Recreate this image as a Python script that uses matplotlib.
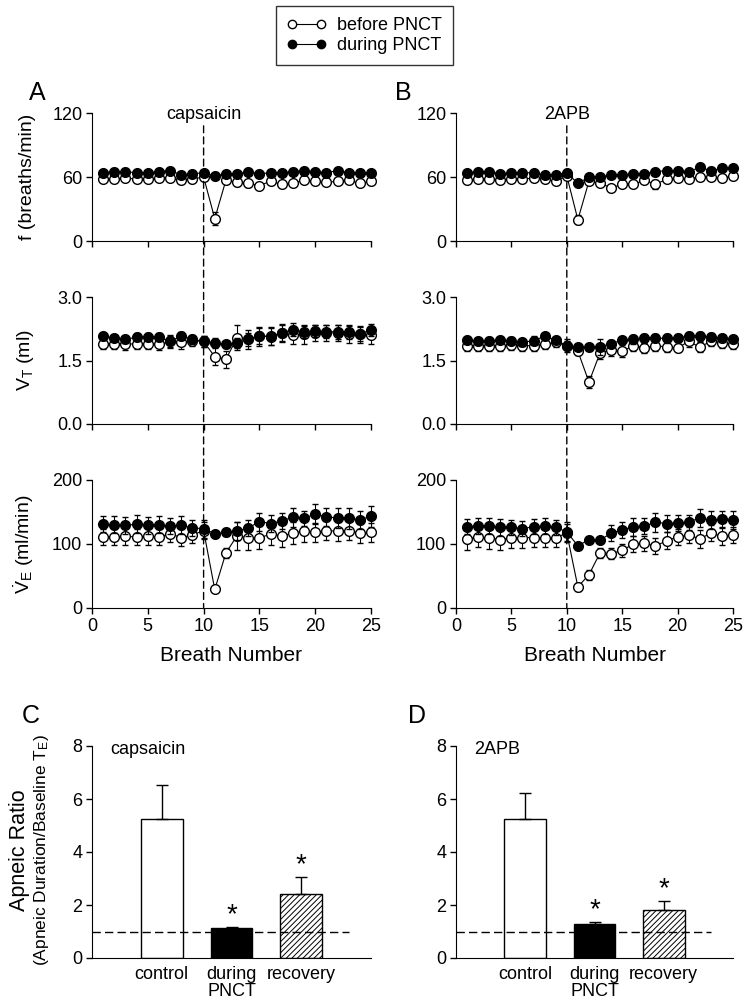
import numpy as np
import matplotlib
matplotlib.use("Agg")
import matplotlib.pyplot as plt
from matplotlib.lines import Line2D
from matplotlib.patches import ConnectionPatch

plt.rcParams['font.family'] = ['Liberation Sans', 'DejaVu Sans']
plt.rcParams['mathtext.fontset'] = 'custom'
plt.rcParams['mathtext.rm'] = 'Liberation Sans'
plt.rcParams['mathtext.it'] = 'Liberation Sans:italic'
plt.rcParams['hatch.linewidth'] = 0.7

# ----------------------
# data
# ----------------------
breath = np.arange(1, 26)

# panel A (capsaicin)
fA_before = [58, 58, 59, 58, 58, 59, 59, 57, 58, 60, 21, 57, 55, 54, 52, 56, 53, 54, 57, 56, 55, 56, 57, 54, 56]
fA_before_err = [2, 2, 2, 2, 2, 2, 2, 2, 2, 2, 6, 3, 3, 3, 2, 2, 2, 2, 2, 2, 2, 2, 2, 2, 2]
fA_during = [64, 65, 65, 64, 64, 65, 66, 62, 63, 64, 61, 63, 63, 65, 63, 64, 64, 65, 66, 65, 64, 66, 64, 64, 64]
fA_during_err = [2] * 25

vtA_before = [1.90, 1.90, 1.88, 1.90, 1.90, 1.88, 1.95, 1.93, 1.97, 1.95, 1.59, 1.53, 2.04, 2.00, 2.07,
              2.08, 2.15, 2.10, 2.12, 2.15, 2.15, 2.15, 2.12, 2.12, 2.10]
vtA_before_err = [0.12, 0.13, 0.13, 0.14, 0.14, 0.14, 0.15, 0.15, 0.12, 0.12, 0.2, 0.2, 0.3, 0.22, 0.22,
                  0.22, 0.22, 0.22, 0.22, 0.2, 0.2, 0.2, 0.2, 0.2, 0.2]
vtA_during = [2.07, 2.03, 2.00, 2.05, 2.05, 2.05, 1.95, 2.08, 2.00, 1.95, 1.92, 1.88, 1.92, 2.00, 2.08,
              2.06, 2.15, 2.23, 2.17, 2.20, 2.18, 2.18, 2.17, 2.13, 2.22]
vtA_during_err = [0.08, 0.08, 0.08, 0.1, 0.1, 0.1, 0.12, 0.1, 0.1, 0.12, 0.1, 0.08, 0.12, 0.15, 0.18,
                  0.2, 0.2, 0.15, 0.15, 0.15, 0.15, 0.17, 0.17, 0.17, 0.15]

veA_before = [111, 111, 112, 111, 112, 111, 116, 110, 114, 121, 29, 86, 113, 109, 110, 115, 113, 117, 120, 118,
              121, 120, 121, 117, 118]
veA_before_err = [13, 13, 13, 13, 13, 13, 13, 13, 13, 13, 4, 8, 22, 18, 18, 16, 18, 17, 17, 15, 15, 15, 15, 15, 15]
veA_during = [131, 130, 129, 131, 129, 130, 128, 129, 125, 124, 116, 118, 120, 125, 135, 132, 136, 142, 140, 147,
              142, 141, 140, 138, 143]
veA_during_err = [13, 13, 13, 14, 13, 13, 12, 14, 12, 14, 5, 6, 14, 12, 14, 14, 12, 15, 12, 16, 14, 16, 16, 14, 17]

# panel B (2APB)
fB_before = [57, 58, 58, 57, 58, 58, 59, 58, 56, 61, 20, 56, 54, 50, 53, 53, 57, 53, 58, 59, 58, 60, 60, 59, 61]
fB_before_err = [2, 2, 2, 2, 2, 2, 2, 2, 2, 2, 4, 2, 2, 2, 2, 2, 2, 4, 2, 3, 2, 2, 2, 2, 2]
fB_during = [64, 65, 65, 63, 64, 64, 64, 62, 62, 64, 54, 60, 60, 62, 62, 63, 63, 65, 66, 66, 65, 69, 66, 68, 68]
fB_during_err = [2] * 25

vtB_before = [1.85, 1.85, 1.85, 1.85, 1.87, 1.85, 1.85, 1.88, 1.93, 1.85, 1.72, 0.99, 1.68, 1.75, 1.72,
              1.85, 1.80, 1.85, 1.82, 1.80, 1.95, 1.82, 1.95, 1.92, 1.88]
vtB_before_err = [0.12, 0.12, 0.12, 0.12, 0.12, 0.12, 0.12, 0.1, 0.1, 0.1, 0.1, 0.15, 0.15, 0.14, 0.14,
                  0.12, 0.12, 0.12, 0.12, 0.1, 0.12, 0.12, 0.1, 0.12, 0.12]
vtB_during = [1.98, 1.95, 1.97, 1.98, 1.97, 1.93, 1.97, 2.07, 1.98, 1.85, 1.82, 1.82, 1.82, 1.90, 1.98,
              2.00, 2.02, 2.03, 2.02, 2.03, 2.08, 2.07, 2.05, 2.02, 2.00]
vtB_during_err = [0.08, 0.08, 0.08, 0.08, 0.08, 0.08, 0.1, 0.08, 0.08, 0.15, 0.05, 0.05, 0.18, 0.08, 0.08,
                  0.1, 0.1, 0.1, 0.1, 0.1, 0.1, 0.1, 0.1, 0.08, 0.08]

veB_before = [108, 111, 109, 107, 110, 110, 110, 110, 110, 117, 33, 52, 86, 85, 90, 100, 101, 97, 105, 111,
              114, 108, 117, 112, 114]
veB_before_err = [18, 16, 17, 17, 16, 16, 15, 15, 14, 14, 6, 8, 8, 8, 10, 12, 12, 12, 13, 12, 12, 14, 13, 13, 12]
veB_during = [127, 128, 128, 126, 126, 124, 127, 128, 126, 119, 97, 107, 106, 117, 122, 127, 128, 134, 132, 133,
              134, 141, 137, 139, 138]
veB_during_err = [12, 13, 13, 13, 12, 12, 12, 12, 12, 15, 4, 4, 4, 12, 12, 14, 12, 15, 14, 12, 12, 14, 14, 13, 14]

# panels C / D : apneic ratio
bar_labels = ["control", "during\nPNCT", "recovery"]
capsaicin_ratio = [5.24, 1.13, 2.43]
capsaicin_err = [1.30, 0.04, 0.64]
apb_ratio = [5.23, 1.27, 1.80]
apb_err = [1.0, 0.08, 0.36]
signif = [False, True, True]
baseline_ratio = 1.0
injection_breath = 10

# ----------------------
# figure
# ----------------------
fig = plt.figure(figsize=(7.5, 10.06), dpi=100)

H = 1006.0
W = 750.0


def ax_at(x0, x1, y0, y1):
    return fig.add_axes([x0 / W, 1 - y1 / H, (x1 - x0) / W, (y1 - y0) / H])


rows = [(113, 241), (297, 424), (480, 608)]
cols = [(92, 371), (456, 733)]

axes = [[ax_at(c[0], c[1], r[0], r[1]) for r in rows] for c in cols]

panel_data = [
    [(fA_before, fA_before_err, fA_during, fA_during_err),
     (vtA_before, vtA_before_err, vtA_during, vtA_during_err),
     (veA_before, veA_before_err, veA_during, veA_during_err)],
    [(fB_before, fB_before_err, fB_during, fB_during_err),
     (vtB_before, vtB_before_err, vtB_during, vtB_during_err),
     (veB_before, veB_before_err, veB_during, veB_during_err)],
]
ylims = [(0, 120), (0, 3.0), (0, 200)]
yticks = [[0, 60, 120], [0, 1.5, 3.0], [0, 100, 200]]
yticklabels = [["0", "60", "120"], ["0.0", "1.5", "3.0"], ["0", "100", "200"]]
ylabels = ["f (breaths/min)", r"V$_\mathrm{T}$ (ml)", r"$\dot{\mathrm{V}}_\mathrm{E}$ (ml/min)"]
drug = ["capsaicin", "2APB"]

for ci in range(2):
    for ri in range(3):
        ax = axes[ci][ri]
        before, before_err, during, during_err = panel_data[ci][ri]
        ax.errorbar(breath, before, yerr=before_err, fmt='o-', color='k', mfc='white', mec='k',
                    ms=7, mew=1, lw=0.8, elinewidth=0.8, capsize=2.5, capthick=0.8,
                    clip_on=False, zorder=3)
        ax.errorbar(breath, during, yerr=during_err, fmt='o-', color='k', mfc='k', mec='k',
                    ms=7, mew=1, lw=0.8, elinewidth=0.8, capsize=2.5, capthick=0.8,
                    clip_on=False, zorder=4)
        ax.set_xlim(0, 25)
        ax.set_ylim(*ylims[ri])
        ax.set_xticks([0, 5, 10, 15, 20, 25])
        ax.set_yticks(yticks[ri])
        ax.set_yticklabels(yticklabels[ri])
        if ri < 2:
            ax.set_xticklabels([])
        else:
            ax.set_xlabel("Breath Number", fontsize=15, labelpad=8)
        ax.spines['top'].set_visible(False)
        ax.spines['right'].set_visible(False)
        ax.tick_params(direction='out', length=4, width=1, labelsize=13, pad=3)
        if ci == 0:
            ax.set_ylabel(ylabels[ri], fontsize=14)
            ax.yaxis.set_label_coords(-0.2, 0.5)
    # injection marker
    top = axes[ci][0]
    top.text(injection_breath, 114, drug[ci], ha='center', va='baseline', fontsize=13)
    con = ConnectionPatch(xyA=(injection_breath, 108), coordsA=top.transData,
                          xyB=(injection_breath, 0), coordsB=axes[ci][2].transData,
                          linestyle=(0, (5, 3)), color='k', lw=1, zorder=1)
    fig.add_artist(con)

# ----------------------
# bar panels
# ----------------------
bar_rows = (746, 958)
bar_axes = [ax_at(c[0], c[1], bar_rows[0], bar_rows[1]) for c in cols]
bar_sets = [(capsaicin_ratio, capsaicin_err), (apb_ratio, apb_err)]
xpos = np.arange(1, 4)
for ci, ax in enumerate(bar_axes):
    vals, errs = bar_sets[ci]
    faces = ['white', 'black', 'white']
    hatches = [None, None, '//////']
    for i in range(3):
        ax.bar(xpos[i], vals[i], width=0.6, color=faces[i], edgecolor='k', linewidth=1,
               hatch=hatches[i], zorder=2)
    ax.errorbar(xpos, vals, yerr=[np.zeros(3), errs], fmt='none', ecolor='k',
                elinewidth=1, capsize=4.3, capthick=1, zorder=3)
    for i in range(3):
        if signif[i]:
            ax.text(xpos[i], vals[i] + errs[i] + 0.45, "*", ha='center', va='center', fontsize=20)
    ax.plot([0, 3.68], [baseline_ratio, baseline_ratio], color='k', lw=1,
            linestyle=(0, (6, 3)), zorder=4)
    ax.set_xlim(0, 4)
    ax.set_ylim(0, 8)
    ax.set_yticks([0, 2, 4, 6, 8])
    ax.set_xticks(xpos)
    ax.set_xticklabels(bar_labels, linespacing=0.95)
    ax.spines['top'].set_visible(False)
    ax.spines['right'].set_visible(False)
    ax.tick_params(axis='y', direction='out', length=4, width=1, labelsize=13, pad=3)
    ax.tick_params(axis='x', length=0, labelsize=13, pad=6)
    ax.text(0.26, 7.85, drug[ci], ha='left', va='center', fontsize=13)

fig.text(20 / W, 1 - 850 / H, "Apneic Ratio", rotation=90, ha='center', va='center', fontsize=15.5)
fig.text(42 / W, 1 - 850 / H, r"(Apneic Duration/Baseline T$_\mathrm{E}$)", rotation=90,
         ha='center', va='center', fontsize=12.5)

# panel letters
for letter, x, y in [("A", 29, 100), ("B", 395, 100), ("C", 22, 723), ("D", 408, 723)]:
    fig.text(x / W, 1 - y / H, letter, ha='left', va='baseline', fontsize=18)

# legend
handles = [Line2D([0], [0], marker='o', color='k', mfc='white', mec='k', ms=6, lw=0.8),
           Line2D([0], [0], marker='o', color='k', mfc='k', mec='k', ms=6, lw=0.8)]
leg = fig.legend(handles, ["before PNCT", "during PNCT"], loc='upper left',
                 bbox_to_anchor=(276 / W, 1 - 6 / H), numpoints=2, fontsize=13,
                 frameon=True, fancybox=False, edgecolor='k', handlelength=2.2,
                 handletextpad=0.6, borderpad=0.6, labelspacing=0.2, borderaxespad=0)
leg.get_frame().set_linewidth(1)

fig.savefig("out.png", dpi=100)
